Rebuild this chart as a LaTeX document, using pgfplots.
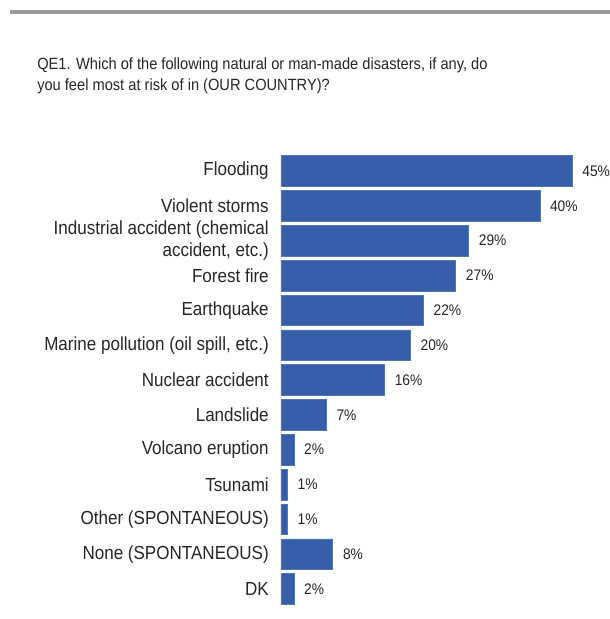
\documentclass[border=0pt]{standalone}
\usepackage{pgfplots}
\pgfplotsset{compat=1.18}
\usepackage{fontspec}
\setmainfont[FakeStretch=0.9]{Liberation Sans}
\definecolor{barblue}{RGB}{54,94,168}
\definecolor{rulegray}{RGB}{154,154,154}

\begin{document}
\begin{tikzpicture}[x=0.75pt,y=-0.75pt]
\path[use as bounding box] (0,0) rectangle (610,619);
\fill[rulegray] (10,10) rectangle (610,14);
\node[anchor=base west, inner sep=0pt, font=\fontsize{12.2pt}{14pt}\selectfont, text=black!85] at (37,69)
  {QE1. Which of the following natural or man-made disasters, if any, do};
\node[anchor=base west, inner sep=0pt, font=\fontsize{12.2pt}{14pt}\selectfont, text=black!85] at (37,90)
  {you feel most at risk of in (OUR COUNTRY)?};

\begin{axis}[
    at={(210.75pt,-115.2pt)}, anchor=north west,
    scale only axis,
    width=242.6pt, height=339.6pt,
    xbar, bar width=0.88,
    xmin=0, xmax=50,
    ymin=-0.5, ymax=12.5,
    y dir=reverse,
    axis line style={draw=none},
    major tick length=0pt,
    xtick=\empty,
    ytick={0,...,12},
    yticklabels={Flooding,Violent storms,{Industrial accident (chemical\\accident, etc.)},Forest fire,Earthquake,{Marine pollution (oil spill, etc.)},Nuclear accident,Landslide,Volcano eruption,Tsunami,Other (SPONTANEOUS),None (SPONTANEOUS),DK},
    yticklabel style={align=right, inner sep=0pt, xshift=-9pt, text=black!85,
        font=\fontsize{14.2pt}{16.5pt}\selectfont},
    /pgf/number format/assume math mode=true,
    nodes near coords={\pgfmathprintnumber{\pgfplotspointmeta}\%},
    nodes near coords style={anchor=west, inner sep=0pt, xshift=7.5pt, text=black!85,
        font=\fontsize{11.5pt}{13pt}\selectfont},
    point meta=x,
]
\addplot[fill=barblue, draw=barblue!85!white] coordinates {
    (45,0) (40,1) (29,2) (27,3) (22,4) (20,5) (16,6) (7,7) (2,8) (1,9) (1,10) (8,11) (2,12)
};
\end{axis}
\end{tikzpicture}
\end{document}
